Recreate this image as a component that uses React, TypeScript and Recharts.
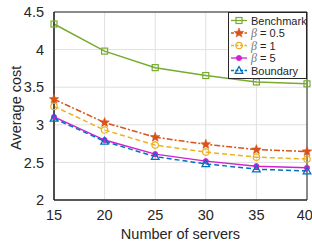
import React from 'react';
import { LineChart, Line, XAxis, YAxis, CartesianGrid, ReferenceArea } from 'recharts';

const servers = [15, 20, 25, 30, 35, 40];
const benchmark = [4.34, 3.98, 3.76, 3.655, 3.57, 3.545];
const beta05 = [3.34, 3.03, 2.835, 2.74, 2.67, 2.645];
const beta1 = [3.245, 2.93, 2.73, 2.637, 2.57, 2.545];
const beta5 = [3.105, 2.797, 2.61, 2.517, 2.45, 2.428];
const boundary = [3.085, 2.78, 2.577, 2.48, 2.41, 2.385];
const xTicks = [15, 20, 25, 30, 35, 40];
const yTicks = [2, 2.5, 3, 3.5, 4, 4.5];

const data = servers.map((s, i) => ({
  s,
  benchmark: benchmark[i],
  beta05: beta05[i],
  beta1: beta1[i],
  beta5: beta5[i],
  boundary: boundary[i],
}));

const font = '"Liberation Sans", Arial, sans-serif';

type Marker = 'square' | 'star' | 'circle' | 'dot' | 'triangle';

function drawMarker(kind: Marker, cx: number, cy: number, color: string, key?: string) {
  if (kind === 'square') {
    return <rect key={key} x={cx - 3} y={cy - 3} width={6} height={6} fill="none" stroke={color} strokeWidth={1.2} />;
  }
  if (kind === 'circle') {
    return <circle key={key} cx={cx} cy={cy} r={3.2} fill="none" stroke={color} strokeWidth={1.2} />;
  }
  if (kind === 'dot') {
    return <circle key={key} cx={cx} cy={cy} r={2.6} fill={color} stroke={color} strokeWidth={0.8} />;
  }
  if (kind === 'triangle') {
    const p = `${cx},${cy - 4} ${cx - 3.8},${cy + 2.8} ${cx + 3.8},${cy + 2.8}`;
    return <polygon key={key} points={p} fill="none" stroke={color} strokeWidth={1.3} />;
  }
  // star
  const pts: string[] = [];
  for (let k = 0; k < 10; k++) {
    const r = k % 2 === 0 ? 5 : 2.1;
    const a = -Math.PI / 2 + (k * Math.PI) / 5;
    pts.push(`${cx + r * Math.cos(a)},${cy + r * Math.sin(a)}`);
  }
  return <polygon key={key} points={pts.join(' ')} fill={color} stroke={color} strokeWidth={0.6} />;
}

const series = [
  { key: 'benchmark', name: 'Benchmark', color: '#77AC30', dash: undefined, marker: 'square' as Marker },
  { key: 'beta05', name: '0.5', color: '#D95319', dash: '6 2 2 2', marker: 'star' as Marker },
  { key: 'beta1', name: '1', color: '#EDB120', dash: '5 3', marker: 'circle' as Marker },
  { key: 'beta5', name: '5', color: '#D21FD2', dash: undefined, marker: 'dot' as Marker },
  { key: 'boundary', name: 'Boundary', color: '#0072BD', dash: '5 3', marker: 'triangle' as Marker },
];

function LegendBox() {
  return (
    <svg width={79} height={67} style={{ display: 'block' }}>
      <rect x={0.5} y={0.5} width={78} height={66} fill="#fff" stroke="#262626" strokeWidth={1} />
      {series.map((s, i) => {
        const y = 8.5 + i * 12.5;
        const beta = s.key.startsWith('beta');
        return (
          <g key={s.key}>
            <line x1={3} x2={19} y1={y} y2={y} stroke={s.color} strokeWidth={1.3} strokeDasharray={s.dash ? '3 1.5' : undefined} />
            {drawMarker(s.marker, 11, y, s.color)}
            {beta ? (
              <text x={23} y={y + 4} fontSize={11} fontFamily={font} fill="#262626">
                <tspan fontFamily='"Liberation Serif", serif' fontStyle="italic" fontSize={12} fill="#777">β</tspan>
                <tspan> = {s.name}</tspan>
              </text>
            ) : (
              <text x={23} y={y + 4} fontSize={11} fontFamily={font} fill="#262626">{s.name}</text>
            )}
          </g>
        );
      })}
    </svg>
  );
}

export default function App() {
  return (
    <div style={{ position: 'fixed', left: 0, top: 0, width: 312, height: 245, background: '#fff' }}>
      <LineChart width={312} height={245} data={data} margin={{ top: 12, right: 5, left: 8, bottom: 6 }}>
        <CartesianGrid stroke="#e0e0e0" strokeWidth={1} />
        <XAxis
          dataKey="s"
          type="number"
          domain={[15, 40]}
          ticks={xTicks}
          axisLine={{ stroke: '#262626', strokeWidth: 1.2 }}
          tickLine={false}
          tick={{ fill: '#262626', fontSize: 14.5, fontFamily: font }}
          tickMargin={4}
          height={39}
          label={{ value: 'Number of servers', position: 'insideBottom', offset: 0, fill: '#262626', fontSize: 14.5, fontFamily: font }}
        />
        <YAxis
          type="number"
          domain={[2, 4.5]}
          ticks={yTicks}
          tickFormatter={(v: number) => String(v)}
          axisLine={{ stroke: '#262626', strokeWidth: 1.2 }}
          tickLine={false}
          tick={{ fill: '#262626', fontSize: 14.5, fontFamily: font }}
          tickMargin={4}
          width={46}
          label={{ value: 'Average cost', angle: -90, position: 'insideLeft', offset: 8, dy: 44, fill: '#262626', fontSize: 14.5, fontFamily: font }}
        />
        <ReferenceArea x1={15} x2={40} y1={2} y2={4.5} fill="none" stroke="#262626" strokeWidth={1} ifOverflow="visible" />
        {series.map((s) => (
          <Line
            key={s.key}
            dataKey={s.key}
            stroke={s.color}
            strokeWidth={1.5}
            strokeDasharray={s.dash}
            isAnimationActive={false}
            dot={(p: any) => drawMarker(s.marker, p.cx, p.cy, s.color, `${s.key}-${p.index}`)}
          />
        ))}
      </LineChart>
      <div style={{ position: 'absolute', left: 228, top: 12 }}>
        <LegendBox />
      </div>
    </div>
  );
}
